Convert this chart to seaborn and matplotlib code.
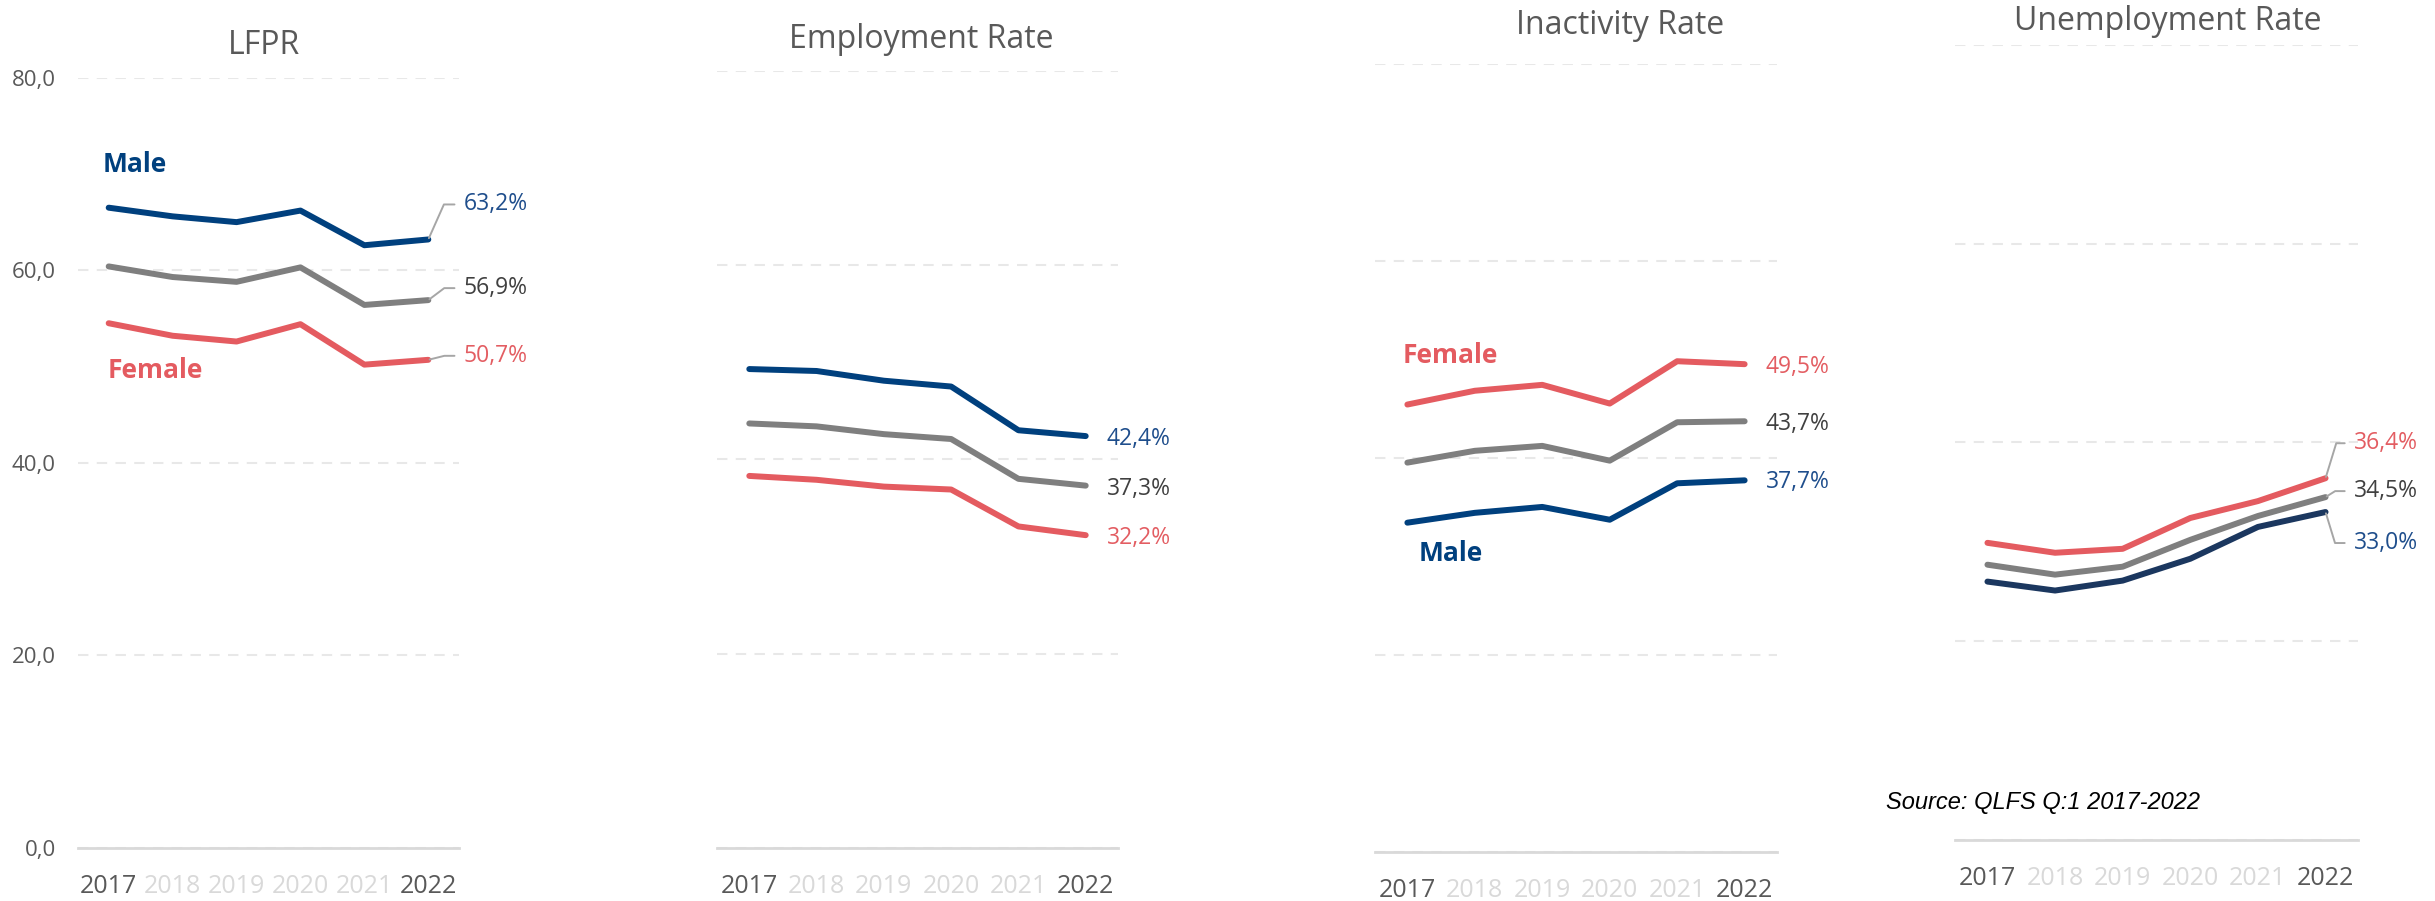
import matplotlib
matplotlib.use("Agg")
import matplotlib.pyplot as plt
import pandas as pd
import seaborn as sns

# ---- data -------------------------------------------------------------
years = ["2017", "2018", "2019", "2020", "2021", "2022"]
groups = ["Male", "Total", "Female"]

lfpr_male = [66.5, 65.6, 65.0, 66.2, 62.6, 63.2]
lfpr_total = [60.4, 59.3, 58.8, 60.3, 56.4, 56.9]
lfpr_female = [54.5, 53.2, 52.6, 54.4, 50.2, 50.7]

emp_male = [49.3, 49.1, 48.1, 47.5, 43.0, 42.4]
emp_total = [43.7, 43.4, 42.6, 42.1, 38.0, 37.3]
emp_female = [38.3, 37.9, 37.2, 36.9, 33.1, 32.2]

inact_male = [33.4, 34.4, 35.0, 33.7, 37.4, 37.7]
inact_total = [39.5, 40.7, 41.2, 39.7, 43.6, 43.7]
inact_female = [45.4, 46.8, 47.4, 45.5, 49.8, 49.5]

unemp_male = [26.0, 25.1, 26.1, 28.3, 31.5, 33.0]
unemp_total = [27.7, 26.7, 27.5, 30.2, 32.6, 34.5]
unemp_female = [29.9, 28.9, 29.3, 32.4, 34.1, 36.4]

titles = ["LFPR", "Employment Rate", "Inactivity Rate", "Unemployment Rate"]
y_ticks = [0, 20, 40, 60, 80]
source_note = "Source: QLFS Q:1 2017-2022"

# ---- style ------------------------------------------------------------
sns.set_theme(style="white")
plt.rcParams["font.family"] = ["Open Sans", "DejaVu Sans"]

W, H = 2435, 901
fig = plt.figure(figsize=(W / 100, H / 100), dpi=100)
fig.patch.set_facecolor("white")

NAVY = "#00407E"
NAVY_DARK = "#1B375F"
GREY = "#7F7F7F"
RED = "#E45B60"
TXT_BLUE = "#1F4E8C"
TXT_GREY = "#404040"
TXT_RED = "#E35D62"
AXIS_TXT = "#595959"
FAINT_TXT = "#D9D9D9"
LEADER = "#A6A6A6"


def px_axes(left, right, top, bottom):
    return fig.add_axes([left / W, 1 - bottom / H, (right - left) / W, (bottom - top) / H])


def long_frame(male, total, female):
    rows = []
    for g, vals in zip(groups, [male, total, female]):
        for i, v in enumerate(vals):
            rows.append({"pos": i, "year": years[i], "group": g, "value": v})
    return pd.DataFrame(rows)


def pct(v):
    return f"{v:.1f}%".replace(".", ",")


def style_axes(ax, show_y):
    ax.set_xlim(-0.48, 5.48)
    ax.set_ylim(0, 80)
    ax.set_xticks(range(len(years)))
    ax.set_xticklabels(years, fontsize=18)
    for i, lab in enumerate(ax.get_xticklabels()):
        lab.set_color(AXIS_TXT if i in (0, len(years) - 1) else FAINT_TXT)
    ax.set_yticks(y_ticks)
    if show_y:
        ax.set_yticklabels([f"{t:.1f}".replace(".", ",") for t in y_ticks],
                           fontsize=16, color=AXIS_TXT)
        ax.tick_params(axis="y", pad=16)
    else:
        ax.tick_params(axis="y", labelleft=False)
    ax.tick_params(axis="both", length=0)
    ax.tick_params(axis="x", pad=19)
    ax.yaxis.grid(True, linestyle=(0, (5, 4)), color="#E8E8E8", linewidth=1.5)
    ax.xaxis.grid(False)
    for s in ["left", "right", "top"]:
        ax.spines[s].set_visible(False)
    ax.spines["bottom"].set_color("#D9D9D9")
    ax.spines["bottom"].set_linewidth(2)
    ax.set_xlabel("")
    ax.set_ylabel("")
    ax.set_facecolor("none")


def value_label(ax, y, color, dx, dy, angle=None):
    kw = dict(xytext=(dx * 0.72, dy * 0.72),
              textcoords="offset points", ha="left", va="center",
              color=color, fontsize=16.5)
    if angle is not None:
        kw["arrowprops"] = dict(arrowstyle="-", color=LEADER, lw=1.4,
                                connectionstyle=f"angle,angleA=0,angleB={angle},rad=0",
                                relpos=(0, 0.5), shrinkA=4, shrinkB=1)
    ax.annotate(pct(y), (len(years) - 1, y), **kw)


panels = [
    dict(box=(78, 459, 77.7, 848), data=(lfpr_male, lfpr_total, lfpr_female),
         male_col=NAVY, title_xy=(264, 45)),
    dict(box=(717, 1118, 70.8, 848), data=(emp_male, emp_total, emp_female),
         male_col=NAVY, title_xy=(921, 40)),
    dict(box=(1375, 1777, 63.9, 851.5), data=(inact_male, inact_total, inact_female),
         male_col=NAVY, title_xy=(1620, 26)),
    dict(box=(1955, 2358, 44.9, 840), data=(unemp_male, unemp_total, unemp_female),
         male_col=NAVY_DARK, title_xy=(2168, 22)),
]

axes = []
for k, p in enumerate(panels):
    ax = px_axes(*p["box"])
    df = long_frame(*p["data"])
    palette = {"Male": p["male_col"], "Total": GREY, "Female": RED}
    sns.lineplot(data=df, x="pos", y="value", hue="group", hue_order=groups,
                 palette=palette, linewidth=4.3, legend=False, sort=False,
                 ax=ax, solid_capstyle="round")
    style_axes(ax, show_y=(k == 0))
    tx, ty = p["title_xy"]
    fig.text(tx / W, 1 - ty / H, titles[k], ha="center", va="center",
             fontsize=23, color=AXIS_TXT)
    axes.append(ax)

ax1, ax2, ax3, ax4 = axes

# LFPR annotations
value_label(ax1, lfpr_male[-1], TXT_BLUE, 35, 35, 66)
value_label(ax1, lfpr_total[-1], TXT_GREY, 35, 12, 37)
value_label(ax1, lfpr_female[-1], TXT_RED, 35, 4, 14)
ax1.text(-0.09, 71.0, "Male", color=NAVY, fontsize=19, fontweight="bold", va="center", ha="left")
ax1.text(-0.02, 49.6, "Female", color=RED, fontsize=19, fontweight="bold", va="center", ha="left")

# Employment annotations
value_label(ax2, emp_male[-1], TXT_BLUE, 21, -3)
value_label(ax2, emp_total[-1], TXT_GREY, 21, -3)
value_label(ax2, emp_female[-1], TXT_RED, 21, -3)

# Inactivity annotations
value_label(ax3, inact_female[-1], TXT_RED, 21, -3)
value_label(ax3, inact_total[-1], TXT_GREY, 21, -3)
value_label(ax3, inact_male[-1], TXT_BLUE, 21, -2)
ax3.text(-0.07, 50.4, "Female", color=RED, fontsize=19, fontweight="bold", va="center", ha="left")
ax3.text(0.16, 30.3, "Male", color=NAVY, fontsize=19, fontweight="bold", va="center", ha="left")

# Unemployment annotations
value_label(ax4, unemp_female[-1], TXT_RED, 28, 35, 73)
value_label(ax4, unemp_total[-1], TXT_GREY, 28, 6, 32)
value_label(ax4, unemp_male[-1], TXT_BLUE, 28, -31, -73)

fig.text(1886 / W, 1 - 802 / H, source_note, ha="left", va="center",
         fontsize=17, fontstyle="italic", family=["Liberation Sans", "DejaVu Sans"],
         color="black")

fig.savefig("out.png", dpi=100, facecolor="white")
